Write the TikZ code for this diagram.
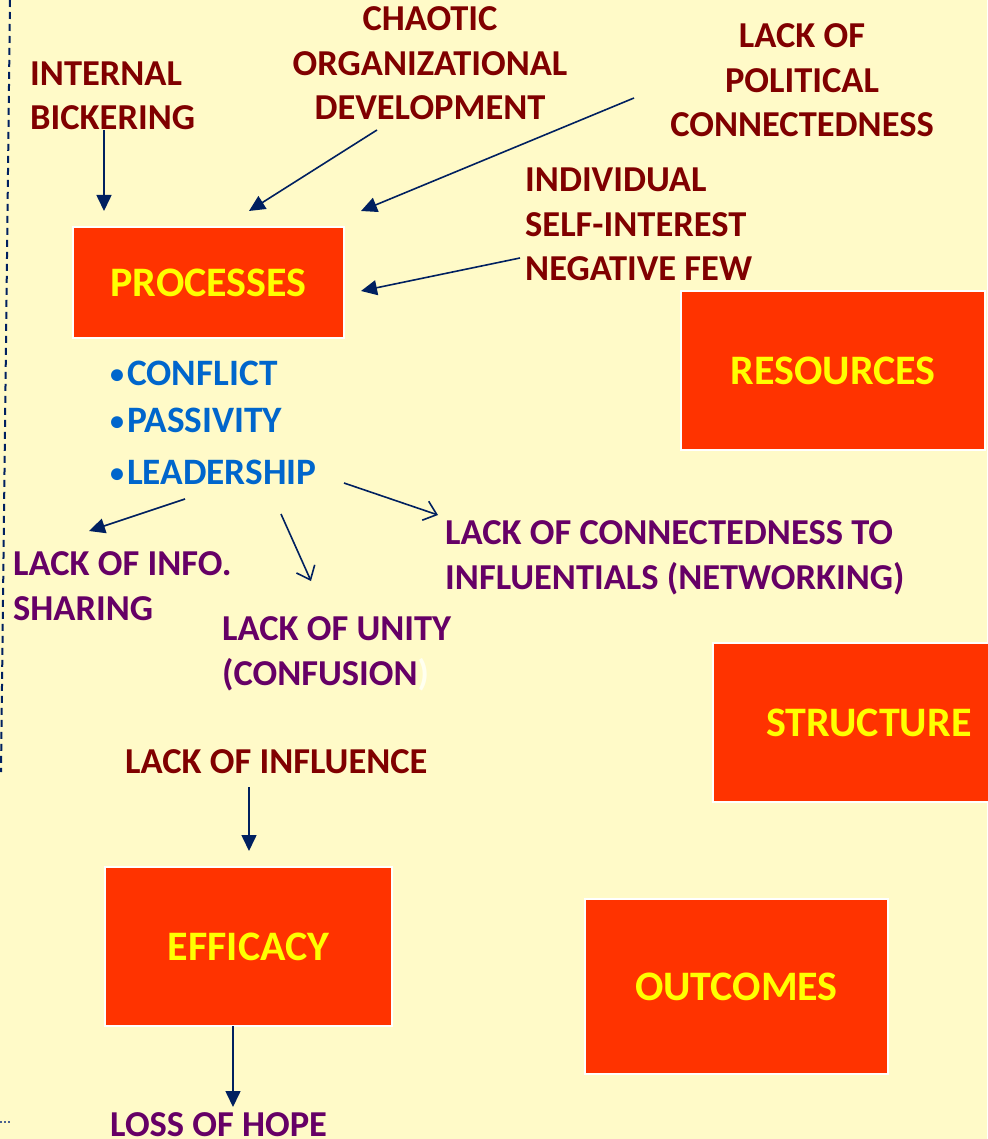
\documentclass[tikz,border=0pt]{standalone}
\usepackage{fontspec}
\setmainfont{Carlito}
\usetikzlibrary{arrows.meta}
\definecolor{bgc}{HTML}{FFFAC8}
\definecolor{boxc}{HTML}{FF3300}
\definecolor{ylw}{HTML}{FFFF00}
\definecolor{dred}{HTML}{800000}
\definecolor{purp}{HTML}{660066}
\definecolor{blu}{HTML}{0066CC}
\definecolor{navy}{HTML}{002060}
\definecolor{pale}{HTML}{FFFFF0}
\newcommand{\bul}{{\fontsize{28}{28}\selectfont\raisebox{2pt}{•}}\hspace{3pt}}
\tikzset{
  redbox/.style={draw=white, line width=1.5pt, fill=boxc, text=ylw, font=\bfseries\fontsize{42}{50}\selectfont},
  lbl/.style={anchor=base west, inner sep=0pt, align=left, font=\bfseries\fontsize{36.5}{44.5}\selectfont},
  clbl/.style={anchor=base, inner sep=0pt, align=center, font=\bfseries\fontsize{36.5}{44.5}\selectfont},
  conn/.style={draw=navy, line width=1.6pt},
  solidtip/.style={conn, -{Triangle[length=16pt,width=15pt]}},
  opentip/.style={conn, -{Straight Barb[length=12pt,width=20pt,line width=1.6pt]}}
}
\begin{document}
\begin{tikzpicture}[x=1pt,y=-1pt]
\fill[bgc] (0,0) rectangle (987,1139);
\useasboundingbox (0,0) rectangle (987,1139);
% border lines
\draw[navy, line width=2pt, dash pattern=on 7pt off 5pt] (10,0) -- (1,772);
\draw[navy!70, line width=1.5pt, dash pattern=on 2pt off 2pt] (0,1122) -- (10,1122);
% boxes
\node[redbox, minimum width=271pt, minimum height=111pt] (proc) at (208.5,282.5) {PROCESSES};
\node[redbox, minimum width=304pt, minimum height=159pt] (res) at (833,370.5) {RESOURCES};
\node[redbox, minimum width=290pt, minimum height=159pt] (str) at (858,722.5) {\hspace*{22pt}STRUCTURE};
\node[redbox, minimum width=287pt, minimum height=159pt] (eff) at (248.5,946.5) {EFFICACY};
\node[redbox, minimum width=303pt, minimum height=175pt] (out) at (736.5,986.5) {OUTCOMES};
% labels (anchor = baseline of last line)
\node[lbl, text=dred] (ib) at (30,130) {INTERNAL\\BICKERING};
\node[clbl, text=dred] (cod) at (430,120) {CHAOTIC\\ORGANIZATIONAL\\DEVELOPMENT};
\node[clbl, text=dred] (lpc) at (802,137) {LACK OF\\POLITICAL\\CONNECTEDNESS};
\node[lbl, text=dred] (isi) at (525,281) {INDIVIDUAL\\SELF-INTEREST\\NEGATIVE FEW};
\node[lbl, text=blu, font=\bfseries\fontsize{37.3}{47}\selectfont] (bullets) at (110,484) {\bul CONFLICT\\\bul PASSIVITY\\[5pt]\bul LEADERSHIP};
\node[lbl, text=purp] (lci) at (445,589) {LACK OF CONNECTEDNESS TO\\INFLUENTIALS (NETWORKING)};
\node[lbl, text=purp] (lis) at (13,620) {LACK OF INFO.\\SHARING};
\node[lbl, text=purp] (lu) at (222,685) {LACK OF UNITY\\(CONFUSION\textcolor{pale}{)}};
\node[lbl, text=dred] (li) at (125,773) {LACK OF INFLUENCE};
\node[lbl, text=purp] (loh) at (110,1136) {LOSS OF HOPE};
% connector anchor coordinates
\coordinate (ibS) at (104,130);
\coordinate (ibT) at (104,211);
\coordinate (codS) at (377,130);
\coordinate (codT) at (249,211);
\coordinate (lpcS) at (634,98);
\coordinate (lpcT) at (361,211);
\coordinate (isiS) at (520,258);
\coordinate (isiT) at (361,291);
\coordinate (leadA) at (185,499);
\coordinate (lisT) at (89,531);
\coordinate (leadB) at (281,514);
\coordinate (luT) at (311,581);
\coordinate (leadC) at (344,483);
\coordinate (lciT) at (438,515);
\coordinate (liS) at (249,787);
\coordinate (liT) at (249,851);
\coordinate (effS) at (233,1026);
\coordinate (effT) at (233,1107);
% connectors
\draw[solidtip] (ibS) -- (ibT);
\draw[solidtip] (codS) -- (codT);
\draw[solidtip] (lpcS) -- (lpcT);
\draw[solidtip] (isiS) -- (isiT);
\draw[solidtip] (leadA) -- (lisT);
\draw[opentip] (leadB) -- (luT);
\draw[opentip] (leadC) -- (lciT);
\draw[solidtip] (liS) -- (liT);
\draw[solidtip] (effS) -- (effT);
\end{tikzpicture}
\end{document}
